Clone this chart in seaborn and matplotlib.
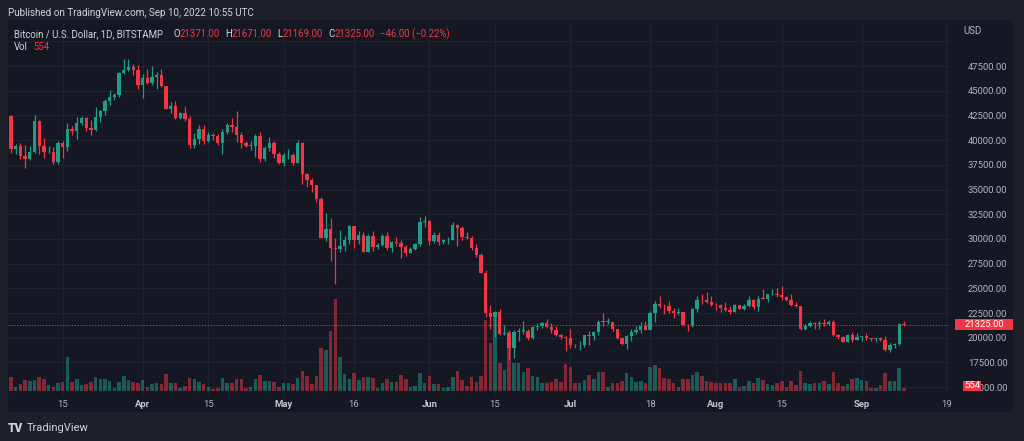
import numpy as np
import pandas as pd
import matplotlib
matplotlib.use("Agg")
import matplotlib.pyplot as plt
import matplotlib.transforms as mtransforms
from matplotlib.patches import Rectangle
import seaborn as sns

# ---------------- data ----------------
dates = pd.date_range("2022-03-04", "2022-09-10", freq="D")

opens = [
    42450, 39150, 39400, 38420, 38050, 38750, 41950, 39440, 38750, 38810, 37800, 39670, 39300, 41120,
    40940, 41780, 42200, 41270, 41000, 42370, 42900, 43960, 44330, 44530, 46820, 47130, 47430, 47060,
    45530, 46300, 45820, 46410, 46620, 45500, 43170, 43440, 42280, 42770, 42150, 39520, 40090, 41150,
    39950, 40550, 40400, 39700, 40800, 41500, 41370, 40480, 39710, 39450, 39450, 40430, 38110, 39240,
    39740, 38590,
    37640, 38470, 38520, 37730, 39690, 36550, 36010, 35470, 34040, 30080, 31010, 29080, 28950, 29300,
    29850, 31300, 29900, 30420, 28700, 30300, 29200, 29430, 30290, 29100, 29650, 29540, 29200, 28620,
    29020, 29450, 31720,
    31790, 29800, 30440, 29690, 29860, 29910, 31370, 31130, 30190, 30110, 29080, 28400, 26570, 22480,
    22130, 22580, 20380, 20450, 19000, 20560, 20700, 20710, 19970, 21100, 21230, 21490, 21040, 20730,
    20270, 20100,
    19930, 19290, 19240, 19300, 20230, 20190, 20550, 21620, 21590, 21590, 20840, 19980, 19330, 20220,
    20570, 20830, 21190, 20780, 22460, 23400, 23230, 23160, 22680, 22460, 22580, 21300, 21240, 22930,
    23840, 23780, 23640,
    23300, 23270, 22990, 22820, 22620, 23320, 22950, 23180, 23810, 23150, 23960, 23940, 24400, 24440,
    24310, 24100, 23860, 23340, 23200, 20840, 21140, 21520, 21400, 21530, 21370, 21600, 20240, 20040,
    19550, 20290, 19800,
    20050, 20130, 19950, 19830, 19990, 19800, 18790, 19290, 19320, 21371,
]
highs = [
    42500, 39650, 39700, 39500, 39400, 42550, 42000, 40250, 39450, 39300, 39900, 39900, 41700, 41450,
    42300, 42400, 42300, 42000, 43350, 43000, 44200, 45100, 44800, 46900, 48200, 48200, 47700, 47600,
    46700, 47200, 47450, 46900, 47200, 45500, 43900, 43950, 42800, 43450, 42400, 40700, 41550, 41500,
    40850, 40700, 40600, 41100, 41750, 42200, 42950, 40800, 39950, 39900, 40600, 40800, 39450, 40350,
    39950, 38800,
    38700, 39150, 38650, 40000, 39850, 36650, 36150, 35500, 34250, 32650, 32150, 30050, 30950, 30300,
    31400, 31350, 30750, 30650, 30500, 30750, 29600, 30450, 30650, 29800, 30200, 29850, 29350, 29150,
    29550, 32200, 32350,
    31950, 30650, 30650, 29950, 30150, 31700, 31500, 31300, 30650, 30300, 29450, 28550, 26850, 23300,
    22700, 22950, 21300, 20750, 20800, 21000, 21700, 20850, 21200, 21500, 21600, 21850, 21500, 21200,
    20400, 20150,
    20900, 19400, 19650, 20300, 20700, 20650, 21800, 22500, 21950, 21600, 20850, 20050, 20250, 20850,
    21200, 21550, 21650, 22700, 23750, 24250, 23400, 23750, 23000, 23000, 22650, 21350, 23000, 24200,
    24450, 24650, 24200,
    23500, 23450, 23650, 23200, 23450, 23350, 23400, 24250, 23950, 24200, 24900, 24450, 24900, 25050,
    25200, 24250, 24450, 23600, 23200, 21400, 21700, 21550, 21650, 21850, 21800, 21800, 20350, 20150,
    20400, 20550, 20450,
    20200, 20450, 20000, 20000, 20050, 20150, 19450, 19450, 21450, 21671,
]
lows = [
    38700, 38600, 38120, 37150, 38000, 38650, 38550, 38220, 38700, 37600, 37580, 38150, 38900, 40550,
    40150, 41500, 40950, 40500, 40900, 41850, 42550, 43600, 44100, 44400, 46650, 46950, 46550, 45200,
    44250, 45650, 45550, 45150, 45400, 43100, 42750, 42100, 42150, 41900, 39250, 39250, 39600, 39600,
    39800, 40050, 39550, 38550, 40600, 40850, 39800, 39200, 39300, 38950, 38250, 37750, 37900, 38900,
    38200, 37600,
    37400, 38050, 37500, 37650, 35600, 35300, 34750, 33700, 30050, 29800, 27750, 25400, 28700, 28750,
    29500, 29100, 29450, 28700, 28650, 28750, 28950, 29250, 28900, 28650, 29300, 28050, 28250, 28550,
    28850, 29300, 31250,
    29350, 29600, 29350, 29500, 29500, 29890, 29250, 29900, 29950, 28900, 28200, 26550, 22100, 20850,
    20100, 20250, 20250, 17700, 17950, 19650, 20350, 19800, 19900, 20750, 20950, 21000, 20500, 20200,
    19850, 18650,
    18950, 18980, 18800, 19050, 19300, 19800, 20250, 21200, 21350, 20650, 19900, 19250, 18900, 19650,
    20400, 20500, 20750, 20750, 21600, 23000, 22350, 22500, 21950, 22250, 21250, 20700, 21050, 22600,
    23450, 23500, 23250,
    22850, 22650, 22700, 22450, 22600, 22900, 22850, 23150, 22900, 22700, 23900, 23600, 24300, 24150,
    23800, 23700, 23200, 23100, 20800, 20750, 21050, 20900, 20900, 21150, 21300, 20150, 19850, 19550,
    19550, 19550, 19800,
    19650, 19750, 19650, 19600, 19650, 18700, 18550, 19000, 19300, 21169,
]
closes = [
    39150, 39400, 38420, 38050, 38750, 41950, 39440, 38750, 38810, 37800, 39670, 39300, 41120, 40940,
    41780, 42200, 41270, 41000, 42370, 42900, 43960, 44330, 44530, 46820, 47130, 47430, 47060, 45530,
    46300, 45820, 46410, 46620, 45500, 43170, 43440, 42280, 42770, 42150, 39520, 40090, 41150, 39950,
    40550, 40400, 39700, 40800, 41500, 41370, 40480, 39710, 39450, 39450, 40430, 38110, 39240, 39740,
    38590, 37640,
    38470, 38520, 37730, 39690, 36550, 36010, 35470, 34040, 30080, 31010, 29080, 28950, 29300, 29850,
    31300, 29900, 30420, 28700, 30300, 29200, 29430, 30290, 29100, 29650, 29540, 29200, 28620, 29020,
    29450, 31720, 31790,
    29800, 30440, 29690, 29860, 29910, 31370, 31130, 30190, 30110, 29080, 28400, 26570, 22480, 22130,
    22580, 20380, 20450, 19000, 20560, 20700, 20710, 19970, 21100, 21230, 21490, 21040, 20730, 20270,
    20100, 19930,
    19290, 19240, 19300, 20230, 20190, 20550, 21620, 21590, 21590, 20840, 19980, 19330, 20220, 20570,
    20830, 21190, 20780, 22460, 23400, 23230, 23160, 22680, 22460, 22580, 21300, 21240, 22930, 23840,
    23780, 23640, 23300,
    23270, 22990, 22820, 22620, 23320, 22950, 23180, 23810, 23150, 23960, 23940, 24400, 24440, 24310,
    24100, 23860, 23340, 23200, 20840, 21140, 21520, 21400, 21530, 21370, 21600, 20240, 20040, 19550,
    20290, 19800, 20050,
    20130, 19950, 19830, 19990, 19800, 18790, 19290, 19320, 21370, 21325,
]
volumes = [
    2800, 800, 1400, 2200, 2000, 2200, 2800, 2400, 1200, 800,
    1600, 1800, 6800, 1800, 2400, 1200, 1400, 1800, 2800, 2400,
    2400, 2000, 600, 1800, 3000, 2200, 1800, 1600, 2200, 800,
    1400, 1600, 1400, 3400, 1600, 1600, 600, 1000, 2600, 2400,
    1800, 1400, 800, 400, 600, 2600, 1600, 1600, 2400, 2400,
    600, 800, 2400, 3200, 2000, 2000, 1800, 800, 1600, 1600,
    1400, 2600, 4000, 3000, 1400, 3000, 8600, 8200, 12000, 18400,
    6800, 3400, 2400, 3600, 2200, 2800, 2800, 2600, 600, 1600,
    2400, 1800, 1800, 3200, 2400, 800, 1000, 3600, 1600, 3000,
    1400, 1400, 600, 800, 2800, 4000, 2200, 1000, 2800, 1800,
    3000, 14200, 9600, 15800, 5600, 4200, 11800, 5600, 5600, 3800,
    4600, 3000, 2800, 1600, 1600, 1800, 2400, 1800, 5400, 4800,
    1600, 1600, 2200, 3200, 2400, 3800, 3800, 800, 1600, 1600,
    2000, 3600, 2800, 1800, 2000, 1600, 4800, 5200, 4600, 2600,
    2400, 1600, 800, 2400, 2400, 3200, 3800, 3000, 2000, 1800,
    1600, 1600, 1600, 1600, 2400, 800, 1000, 2000, 1600, 2600,
    2200, 1400, 1200, 1600, 2000, 800, 2000, 1200, 4000, 1600,
    1400, 1600, 1600, 2000, 1400, 3800, 1600, 1000, 1400, 2400,
    2600, 2200, 2000, 600, 600, 1200, 3600, 2000, 2000, 4600,
    554,
]
tick_dates = ["2022-03-15", "2022-04-01", "2022-04-15", "2022-05-01", "2022-05-16", "2022-06-01",
              "2022-06-15", "2022-07-01", "2022-07-18", "2022-08-01", "2022-08-15", "2022-09-01",
              "2022-09-19"]
tick_labels = ["15", "Apr", "15", "May", "16", "Jun", "15", "Jul", "18", "Aug", "15", "Sep", "19"]
price_ticks = [15000, 17500, 20000, 22500, 25000, 27500, 30000, 32500, 35000, 37500, 40000,
               42500, 45000, 47500]

# ---------------- style ----------------
OUTER = "#1e2029"
PANEL = "#151823"
GRID = "#1f2330"
RED = "#f23645"
GREEN = "#1e9e89"
TXT = "#b2b5be"
TXT2 = "#d1d4dc"

sns.set_theme(style="dark")
plt.rcParams["font.family"] = ["Roboto", "DejaVu Sans"]

W, H = 1024, 441
fig = plt.figure(figsize=(W / 100, H / 100), dpi=100)
fig.patch.set_facecolor(OUTER)
fig.patches.append(Rectangle((8 / W, 1 - 412 / H), (1013 - 8) / W, (412 - 20) / H,
                             transform=fig.transFigure, facecolor=PANEL, edgecolor="none",
                             zorder=-5))

rect = [8 / W, 1 - 396 / H, (950 - 8) / W, (396 - 21) / H]
axv = fig.add_axes(rect)
ax = fig.add_axes(rect, sharex=axv)
ax.patch.set_visible(False)
axv.set_facecolor(PANEL)

df = pd.DataFrame({"date": dates, "open": opens, "high": highs, "low": lows,
                   "close": closes, "volume": volumes})
df["day"] = (df["date"] - df["date"].iloc[0]).dt.days
df["dir"] = np.where(df["close"] >= df["open"], "up", "down")

# volume (seaborn)
sns.barplot(data=df, x="day", y="volume", hue="dir", palette={"up": GREEN, "down": RED},
            native_scale=True, dodge=False, width=0.75, alpha=0.5, saturation=1,
            errorbar=None, legend=False, ax=axv, linewidth=0)
axv.set_ylim(-1000, 74000)
axv.set_xlabel("")
axv.set_ylabel("")
axv.tick_params(left=False, bottom=False, labelleft=False, labelbottom=False)

# grid in the background axes using the price scale
tday = [(pd.Timestamp(d) - df["date"].iloc[0]).days for d in tick_dates]
htrans = mtransforms.blended_transform_factory(axv.transAxes, ax.transData)
for p in price_ticks + [50000]:
    axv.plot([0, 1], [p, p], transform=htrans, color=GRID, lw=0.9, zorder=0)
axv.vlines(tday, 0, 1, transform=axv.get_xaxis_transform(), color=GRID, lw=0.9, zorder=0)

# candles
x = df["day"].to_numpy()
o = df["open"].to_numpy(float)
c = df["close"].to_numpy(float)
hi = df["high"].to_numpy(float)
lo = df["low"].to_numpy(float)
cols = np.where(c >= o, GREEN, RED)
ax.vlines(x, np.minimum(lo, np.minimum(o, c)), np.maximum(hi, np.maximum(o, c)),
          colors=cols, lw=0.9, zorder=3)
ax.bar(x, np.maximum(np.abs(c - o), 70), bottom=np.minimum(o, c), width=0.72,
       color=cols, linewidth=0, zorder=4)

# last price line
last = closes[-1]
ax.axhline(last, color=RED, lw=0.8, ls=(0, (1, 1.6)), zorder=2)

ax.set_xlim(-0.64, 199.8)
ax.set_ylim(14100, 52055)

for a in (ax, axv):
    for s in a.spines.values():
        s.set_visible(False)

ax.yaxis.tick_right()
ax.set_yticks(price_ticks)
ax.set_yticklabels([f"{p:.2f}" for p in price_ticks])
ax.tick_params(axis="y", length=0, pad=13, labelsize=6.8, labelcolor=TXT)
ax.set_xticks(tday)
ax.set_xticklabels(tick_labels)
ax.tick_params(axis="x", length=0, pad=3, labelsize=6.8, labelcolor=TXT)
for lab in ax.get_xticklabels():
    if not lab.get_text().isdigit():
        lab.set_fontweight("bold")
        lab.set_color("#c3c6ce")
ax.grid(False)
axv.grid(False)
ax.set_xlabel("")
ax.set_ylabel("")

# price label box
bt = mtransforms.blended_transform_factory(ax.transAxes, ax.transData)
ax.add_patch(Rectangle((1.0053, last - 560), 0.0616, 1120, transform=bt, clip_on=False,
                       facecolor=RED, edgecolor="none", zorder=10))
ax.text(1.0361, last, f"{last:.2f}", transform=bt, ha="center", va="center", color="white",
        fontsize=6.8, zorder=11, clip_on=False)

# volume label box (covers the start of the lowest price label, as in the reference)
vfrac = (volumes[-1] - axv.get_ylim()[0]) / (axv.get_ylim()[1] - axv.get_ylim()[0])
vy = vfrac + 0.006
ax.add_patch(Rectangle((1.0138, vy - 0.0147), 0.0191, 0.0293, transform=ax.transAxes,
                       clip_on=False, facecolor=RED, edgecolor="none", zorder=10))
ax.text(1.0234, vy, f"{volumes[-1]}", transform=ax.transAxes, ha="center", va="center",
        color="white", fontsize=6.8, zorder=11, clip_on=False)


def ftext(px, py, s, **kw):
    kw.setdefault("va", "center")
    fig.text(px / W, 1 - py / H, s, **kw)


ftext(963, 31, "USD", color=TXT, fontsize=7)
ftext(8, 12.5, "Published on TradingView.com, Sep 10, 2022 10:55 UTC", color=TXT2, fontsize=7.1)
ftext(14, 34, "Bitcoin / U.S. Dollar, 1D, BITSTAMP", color=TXT2, fontsize=6.9)
chg = closes[-1] - opens[-1]
pct = chg / opens[-1] * 100
for lx, lab, vx, val in [(173, "O", 180, opens[-1]), (225, "H", 232, highs[-1]),
                         (277, "L", 283, lows[-1]), (328, "C", 335, closes[-1])]:
    ftext(lx, 34, lab, color=TXT2, fontsize=6.9)
    ftext(vx, 34, f"{val:.2f}", color=RED, fontsize=6.9)
ftext(380, 34, f"{chg:.2f} ({pct:.2f}%)".replace("-", "\u2212"), color=RED, fontsize=6.9)
ftext(14, 47, "Vol", color=TXT2, fontsize=6.9)
ftext(33, 47, f"{volumes[-1]}", color=RED, fontsize=6.9)

ftext(8, 428, "TV", color=TXT2, fontsize=8.5, fontweight="heavy")
ftext(27, 428, "TradingView", color=TXT2, fontsize=8)

fig.savefig("out.png", dpi=100, facecolor=OUTER)
